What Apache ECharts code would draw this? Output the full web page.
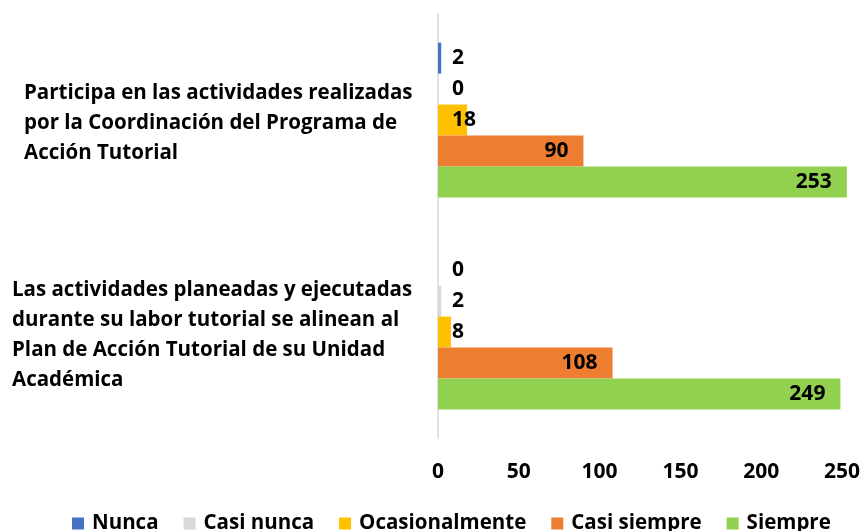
<!DOCTYPE html>
<html>
<head>
<meta charset="utf-8">
<script src="https://cdn.jsdelivr.net/npm/echarts@6/dist/echarts.min.js"></script>
<style>
  html, body { margin: 0; background: #fff; }
  #chart { width: 864px; height: 531px; }
</style>
</head>
<body>
<div id="chart"></div>
<script>
const categories = [
  'Participa en las actividades realizadas\npor la Coordinación del Programa de\nAcción Tutorial',
  'Las actividades planeadas y ejecutadas\ndurante su labor tutorial se alinean al\nPlan de Acción Tutorial de su Unidad\nAcadémica'
]
const seriesNames = ['Nunca', 'Casi nunca', 'Ocasionalmente', 'Casi siempre', 'Siempre']
const nunca = [2, 0]
const casiNunca = [0, 2]
const ocasionalmente = [18, 8]
const casiSiempre = [90, 108]
const siempre = [253, 249]
const xTicks = [0, 50, 100, 150, 200, 250]

const colors = ['#4472C4', '#D9D9D9', '#FFC000', '#ED7D31', '#92D050']
const FONT = '"Open Sans", sans-serif'
const SIZE = 20.5
const NUM_SIZE = 21

// widest line of each category label, so the lines can stay left aligned
const ctx = document.createElement('canvas').getContext('2d')
ctx.font = 'bold ' + SIZE + 'px ' + FONT
const labelWidths = categories.map((c) =>
  Math.ceil(Math.max(...c.split('\n').map((l) => ctx.measureText(l).width)))
)
const rich = {}
labelWidths.forEach((w, i) => {
  rich['c' + i] = { width: w, align: 'left', lineHeight: 30, fontSize: SIZE, fontWeight: 'bold', fontFamily: FONT, color: '#000' }
})

function barLabel(v) {
  if (v < 30) return { position: [14, '50%'], align: 'left', verticalAlign: 'middle' }
  return { position: 'insideRight', distance: 15 }
}

const values = [nunca, casiNunca, ocasionalmente, casiSiempre, siempre]

const chart = echarts.init(document.getElementById('chart'))
chart.setOption({
  animation: false,
  textStyle: { fontFamily: FONT },
  grid: { left: 438, right: 22, top: 14, bottom: 93 },
  legend: {
    data: seriesNames,
    left: 67,
    top: 508,
    itemWidth: 12,
    itemHeight: 12,
    itemGap: 25,
    icon: 'rect',
    textStyle: { fontSize: SIZE, fontWeight: 'bold', color: '#000', padding: [0, 0, 0, 3] }
  },
  xAxis: {
    type: 'value',
    min: xTicks[0],
    max: xTicks[xTicks.length - 1],
    interval: xTicks[1] - xTicks[0],
    axisLine: { show: false },
    axisTick: { show: false },
    splitLine: { show: false },
    axisLabel: { margin: 24, fontSize: NUM_SIZE, fontWeight: 'bold', color: '#000' }
  },
  yAxis: {
    type: 'category',
    inverse: true,
    data: categories,
    axisLine: { lineStyle: { color: '#d9d9d9', width: 1.5 } },
    axisTick: { show: false },
    axisLabel: {
      margin: 25,
      padding: [7, 0, 0, 0],
      fontSize: SIZE,
      fontWeight: 'bold',
      color: '#000',
      lineHeight: 30,
      formatter: (val, idx) => val.split('\n').map((l) => '{c' + idx + '|' + l + '}').join('\n'),
      rich: rich
    }
  },
  series: seriesNames.map((name, i) => ({
    name: name,
    type: 'bar',
    barGap: '0%',
    barCategoryGap: '27%',
    clip: false,
    itemStyle: { color: colors[i] },
    label: { show: true, fontSize: NUM_SIZE, fontWeight: 'bold', color: '#000' },
    data: values[i].map((v) => ({ value: v, label: barLabel(v) }))
  }))
})
</script>
</body>
</html>
